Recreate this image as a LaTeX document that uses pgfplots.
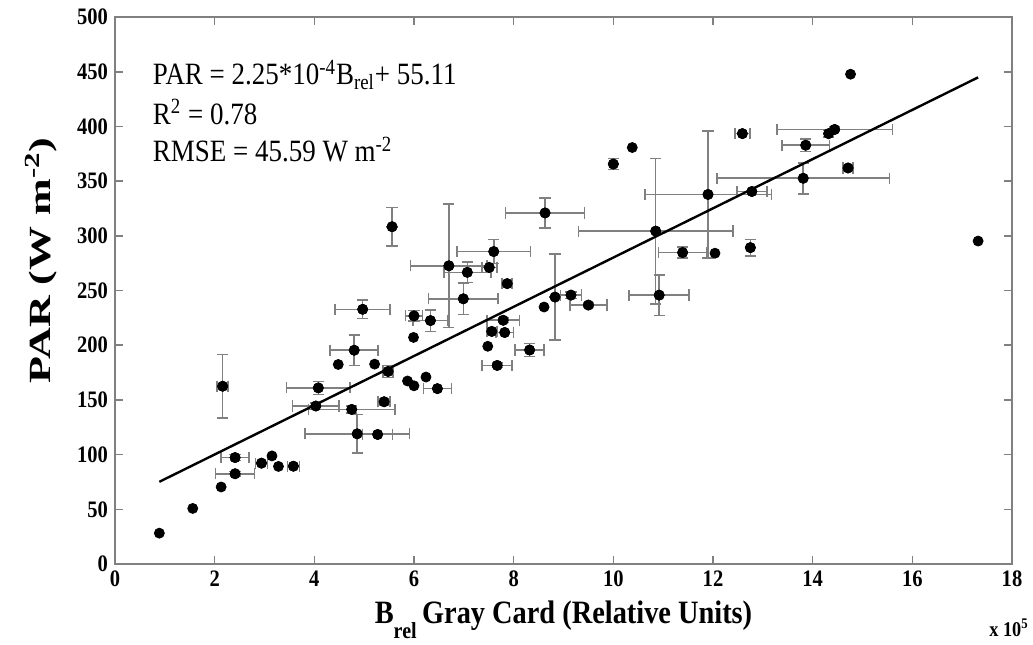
\documentclass[border=0pt]{standalone}
\usepackage{fontspec}
\setmainfont{Liberation Serif}[FakeStretch=0.87]
\newfontfamily\uprightserif{Liberation Serif}
\usepackage{pgfplots}
\pgfplotsset{compat=1.18}
\usepackage{pgfplotstable}

% Samples with measured spread (B_rel in units of 10^5)
\pgfplotstableread{
x y ex ey
2.41 82.5 0.39 2
2.41 97.3 0.28 2.7
2.94 92.2 0.12 0
3.58 89.4 0.12 0
2.16 162.5 0.11 29
4.08 161.0 0.64 6
4.03 144.4 0.47 3
4.75 141.3 0.87 3
4.86 119.0 1.05 17.5
5.27 118.4 0.30 0
5.40 148.3 0.12 3
5.48 176.0 0.10 5.6
6.47 160.3 0.28 0
4.80 195.4 0.48 13.9
4.97 232.8 0.55 8.3
5.56 308.3 0 17.5
6.00 226.8 0.17 4.8
6.33 222.5 0.35 9.8
6.70 272.6 0.77 56.5
7.51 271.1 0.15 0
7.07 266.6 0.47 9.2
7.60 285.6 0.74 10.9
6.99 242.4 0.70 14.3
7.87 256.3 0.10 0
7.79 222.8 0.33 2
7.56 212.6 0.10 0
7.82 211.6 0.18 0
7.67 181.5 0.30 2
8.32 195.6 0.29 5.9
8.83 244.0 0 39.5
9.15 245.8 0.21 3
9.50 236.7 0.37 2
8.63 320.9 0.79 13.7
10.85 304.3 1.55 66.4
10.92 245.8 0.60 18.6
11.39 284.7 0.48 5.2
11.90 337.8 1.27 58
12.75 289.2 0 7.5
12.78 340.5 0.30 0
13.81 352.6 1.73 14.2
14.71 362.0 0.10 0
13.86 382.8 0.48 5.6
14.32 393.4 0 3
14.44 397.2 1.16 2
12.59 393.4 0.15 0
10.00 365.6 0 5
}\errdata

% Single-reading samples
\pgfplotstableread{
x y
0.89 28.2
1.56 50.8
2.13 70.4
3.15 98.8
3.28 89.2
5.87 167.3
6.00 162.9
6.24 170.9
4.48 182.4
5.21 182.7
5.99 207.1
7.48 199.0
8.61 234.9
12.04 284.1
10.38 380.7
14.76 447.7
17.32 295.2
}\plaindata

\begin{document}
\begin{tikzpicture}
\begin{axis}[
  at={(57.5pt,40pt)}, anchor=south west,
  scale only axis, width=448.5pt, height=273.5pt,
  xmin=0, xmax=18, ymin=0, ymax=500,
  xtick={0,2,...,18}, ytick={0,50,...,500},
  clip=false,
  tick align=inside,
  major tick length=4pt,
  axis line style={black!50, line width=0.8pt},
  every tick/.style={black!50, line width=0.8pt},
  /pgf/number format/assume math mode=true,
  tick label style={font=\bfseries\fontsize{11.8}{13}\selectfont},
  xlabel={B\raisebox{-1.0ex}{\fontsize{11.5}{12}\selectfont rel}\,Gray Card (Relative Units)},
  xlabel style={at={(axis description cs:0.5,-0.108)}, anchor=base,
    font=\bfseries\fontsize{16.3}{18}\selectfont},
  ylabel={\scalebox{1}[0.7]{\uprightserif\bfseries PAR (W m\textsuperscript{-2})}},
  ylabel style={at={(axis description cs:-0.0825,0.555)}, anchor=center,
    font=\fontsize{22}{24}\selectfont},
]
% gray error bars with end caps, black dots on top
\addplot[only marks, mark=*, mark size=2.5pt, black,
  error bars/.cd, x dir=both, x explicit, y dir=both, y explicit,
  error bar style={black!50, line width=0.8pt},
  error mark options={rotate=90, draw=black!50, line width=0.8pt, mark size=2.8pt}]
  table[x=x, y=y, x error=ex, y error=ey] {\errdata};
\addplot[black, line width=1.2pt, mark=none] coordinates {(0.89,75.14) (17.32,444.81)};
\addplot[only marks, mark=*, mark size=2.5pt, black] table[x=x, y=y] {\errdata};
\addplot[only marks, mark=*, mark size=2.5pt, black] table[x=x, y=y] {\plaindata};
\node[anchor=west, font=\fontsize{15.5}{18}\selectfont] at (axis cs:0.62,447)
  {PAR = 2.25*10\textsuperscript{-4}B\textsubscript{rel}+ 55.11};
\node[anchor=west, font=\fontsize{15.5}{18}\selectfont] at (axis cs:0.62,413)
  {R\textsuperscript{2} = 0.78};
\node[anchor=west, font=\fontsize{15.5}{18}\selectfont] at (axis cs:0.62,379)
  {RMSE = 45.59 W m\textsuperscript{-2}};
\end{axis}
\node[font=\bfseries\fontsize{10.5}{12}\selectfont] at (504.5pt,8pt) {x 10\textsuperscript{5}};
\pgfresetboundingbox
\path[use as bounding box] (0,0) rectangle (516.5pt,322pt);
\end{tikzpicture}
\end{document}
